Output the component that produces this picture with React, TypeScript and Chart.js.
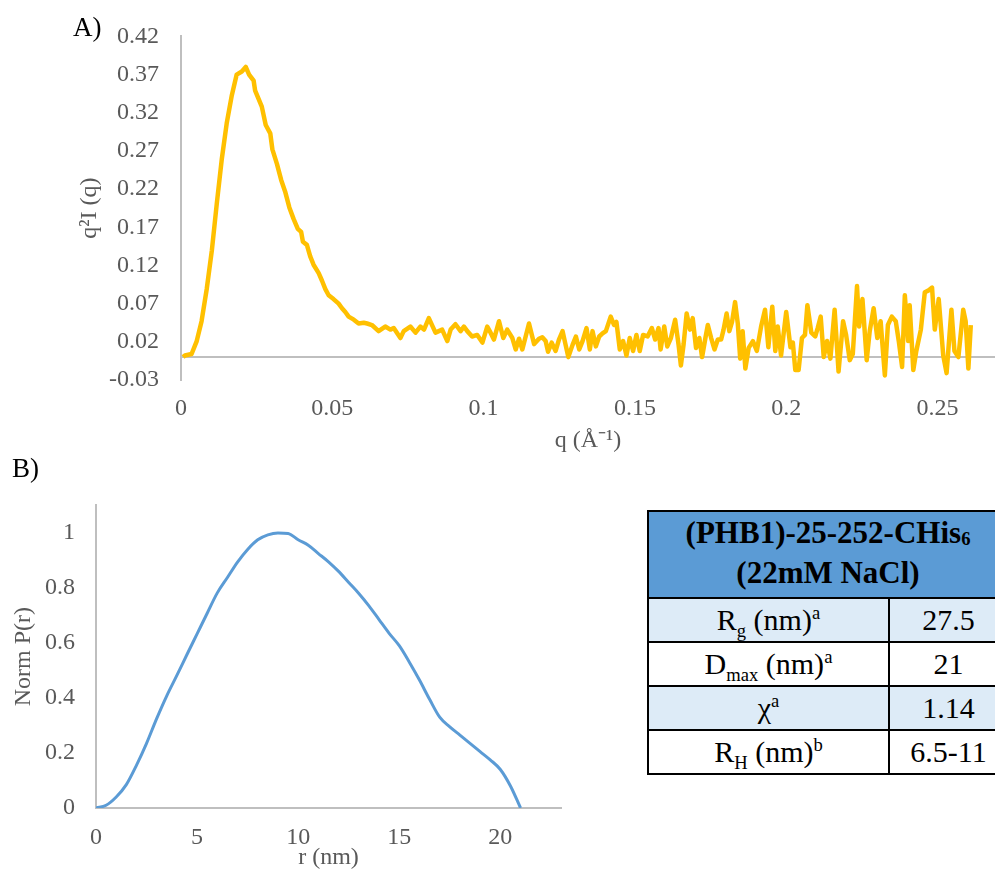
import React, { useEffect, useRef } from "react";
import { Chart, registerables } from "chart.js";

Chart.register(...registerables);

// ---------- Panel A: Kratky plot ----------
const qA = [
  0.0007, 0.0013, 0.0035, 0.0052, 0.0068, 0.0085, 0.0102, 0.0118, 0.0135, 0.0151,
  0.0168, 0.0184, 0.0201, 0.0214, 0.0225, 0.0240, 0.0245, 0.0267, 0.0280, 0.0295,
  0.0302, 0.0317, 0.0331, 0.0344, 0.0358, 0.0372, 0.0386, 0.0397, 0.0403, 0.0416,
  0.0427, 0.0438, 0.0455, 0.0466, 0.0477, 0.0488, 0.0504, 0.0521, 0.0532, 0.0543,
  0.0554, 0.0571, 0.0587, 0.0604, 0.0615, 0.0631, 0.0653, 0.0675, 0.0692, 0.0703,
  0.0725, 0.0736, 0.0758, 0.0775, 0.0791, 0.0803, 0.0819, 0.0841, 0.0863, 0.0880,
  0.0891, 0.0907, 0.0924, 0.0935, 0.0946, 0.0962, 0.0979, 0.0996, 0.1012, 0.1023,
  0.1034, 0.1051, 0.1065, 0.1078, 0.1095, 0.1106, 0.1117, 0.1128, 0.1150, 0.1167,
  0.1183, 0.1194, 0.1205, 0.1213, 0.1225, 0.1238, 0.1249, 0.1261, 0.1271, 0.1280,
  0.1294, 0.1305, 0.1316, 0.1327, 0.1340, 0.1351, 0.1360, 0.1371, 0.1382, 0.1393,
  0.1404, 0.1420, 0.1431, 0.1439, 0.1450, 0.1461, 0.1472, 0.1483, 0.1494, 0.1505,
  0.1516, 0.1527, 0.1542, 0.1556, 0.1567, 0.1578, 0.1585, 0.1597, 0.1607, 0.1619,
  0.1633, 0.1644, 0.1652, 0.1661, 0.1671, 0.1682, 0.1691, 0.1702, 0.1713, 0.1722,
  0.1733, 0.1741, 0.1752, 0.1763, 0.1774, 0.1785, 0.1793, 0.1803, 0.1812, 0.1821,
  0.1831, 0.1840, 0.1848, 0.1856, 0.1865, 0.1876, 0.1890, 0.1903, 0.1917, 0.1930,
  0.1941, 0.1954, 0.1964, 0.1972, 0.1983, 0.2000, 0.2014, 0.2022, 0.2030, 0.2041,
  0.2052, 0.2062, 0.2070, 0.2083, 0.2096, 0.2104, 0.2114, 0.2124, 0.2135, 0.2146,
  0.2160, 0.2173, 0.2188, 0.2198, 0.2210, 0.2220, 0.2234, 0.2241, 0.2252, 0.2266,
  0.2276, 0.2289, 0.2301, 0.2312, 0.2326, 0.2336, 0.2349, 0.2362, 0.2372, 0.2383,
  0.2392, 0.2403, 0.2408, 0.2420, 0.2430, 0.2445, 0.2458, 0.2469, 0.2482, 0.2491,
  0.2504, 0.2519, 0.2530, 0.2546, 0.2556, 0.2569, 0.2585, 0.2593, 0.2602, 0.2610,
];

const q2I = [
  0.000, 0.002, 0.004, 0.021, 0.047, 0.089, 0.140, 0.200, 0.260, 0.306,
  0.343, 0.370, 0.374, 0.380, 0.370, 0.362, 0.349, 0.328, 0.304, 0.293,
  0.272, 0.253, 0.232, 0.217, 0.196, 0.181, 0.168, 0.164, 0.151, 0.147,
  0.132, 0.121, 0.110, 0.100, 0.089, 0.081, 0.076, 0.070, 0.064, 0.059,
  0.053, 0.049, 0.044, 0.045, 0.044, 0.042, 0.034, 0.040, 0.036, 0.038,
  0.025, 0.034, 0.040, 0.032, 0.040, 0.036, 0.051, 0.032, 0.036, 0.021,
  0.036, 0.043, 0.034, 0.040, 0.034, 0.027, 0.029, 0.019, 0.040, 0.032,
  0.023, 0.047, 0.025, 0.036, 0.025, 0.010, 0.024, 0.010, 0.044, 0.017,
  0.024, 0.026, 0.021, 0.007, 0.019, 0.008, 0.023, 0.034, 0.016, 0.000,
  0.016, 0.027, 0.010, 0.021, 0.038, 0.010, 0.034, 0.014, 0.027, 0.031,
  0.034, 0.053, 0.042, 0.046, 0.010, 0.021, 0.002, 0.025, 0.008, 0.029,
  0.008, 0.029, 0.027, 0.038, 0.023, 0.038, 0.010, 0.040, 0.014, 0.025,
  0.049, 0.017, -0.011, 0.017, 0.057, 0.036, 0.051, 0.012, 0.025, 0.000,
  0.025, 0.042, 0.025, 0.010, 0.023, 0.023, 0.036, 0.057, 0.034, 0.046,
  0.072, 0.044, -0.002, 0.034, -0.015, 0.012, 0.021, 0.008, 0.040, 0.062,
  0.013, 0.066, 0.008, 0.040, 0.002, 0.059, 0.013, 0.019, -0.017, -0.017,
  0.025, 0.029, 0.068, 0.032, 0.027, 0.038, 0.053, 0.000, 0.021, -0.002,
  0.062, -0.019, 0.047, 0.029, -0.004, 0.004, 0.093, 0.040, 0.076, -0.004,
  0.034, 0.064, 0.025, 0.047, -0.024, 0.042, 0.053, 0.047, 0.021, -0.013,
  0.081, 0.021, 0.068, -0.017, 0.008, 0.036, 0.085, 0.087, 0.091, 0.036,
  0.076, 0.002, -0.021, 0.062, 0.008, 0.000, 0.062, 0.047, -0.015, 0.042,
];

const xTicksA = [0, 0.05, 0.1, 0.15, 0.2, 0.25];
const yTicksA = [-0.03, 0.02, 0.07, 0.12, 0.17, 0.22, 0.27, 0.32, 0.37, 0.42];

// ---------- Panel B: pair distance distribution ----------
const rB = [
  0, 0.5, 1, 1.5, 2, 2.5, 3, 3.5, 4, 4.5, 5, 5.5, 6, 6.5, 7, 7.5, 8, 8.5, 9, 9.5,
  10, 10.5, 11, 11.5, 12, 12.5, 13, 13.5, 14, 14.5, 15, 15.5, 16, 16.5, 17, 17.5,
  18, 18.5, 19, 19.5, 20, 20.5, 21,
];
const normP = [
  0, 0.01, 0.04, 0.085, 0.155, 0.235, 0.325, 0.408, 0.482, 0.558, 0.633, 0.708,
  0.782, 0.838, 0.894, 0.94, 0.975, 0.993, 1.0, 0.998, 0.975, 0.955, 0.925, 0.895,
  0.86, 0.82, 0.78, 0.735, 0.685, 0.635, 0.59, 0.53, 0.465, 0.395, 0.33, 0.295,
  0.265, 0.235, 0.205, 0.175, 0.14, 0.08, 0.0,
];
const xTicksB = [0, 5, 10, 15, 20];
const yTicksB = [0, 0.2, 0.4, 0.6, 0.8, 1];

// ---------- Table ----------
const tableTitle1 = "(PHB1)-25-252-CHis";
const tableTitleSub = "6";
const tableTitle2 = "(22mM NaCl)";
const rowBase = ["R", "D", "χ", "R"];
const rowSub = ["g", "max", "", "H"];
const rowRest = [" (nm)", " (nm)", "", " (nm)"];
const rowSup = ["a", "a", "a", "b"];
const rowValues = ["27.5", "21", "1.14", "6.5-11"];

const SERIF = "'Liberation Serif', 'Times New Roman', serif";
const GREY = "#595959";
const AXIS = "#BFBFBF";

const zeroLinePlugin = {
  id: "zeroLine",
  beforeDatasetsDraw(chart: any) {
    const { ctx, chartArea, scales } = chart;
    const y = scales.y.getPixelForValue(0);
    ctx.save();
    ctx.strokeStyle = AXIS;
    ctx.lineWidth = 2;
    ctx.beginPath();
    ctx.moveTo(chartArea.left, y);
    ctx.lineTo(chartArea.right, y);
    ctx.stroke();
    ctx.restore();
  },
};

const fmt = (v: number) => String(Number(v.toFixed(2)));

export default function App() {
  const refA = useRef<HTMLCanvasElement | null>(null);
  const refB = useRef<HTMLCanvasElement | null>(null);

  useEffect(() => {
    const tickFont = { family: SERIF, size: 24 };
    const chartA = new Chart(refA.current as HTMLCanvasElement, {
      type: "line",
      data: {
        datasets: [
          {
            data: qA.map((q, i) => ({ x: q, y: q2I[i] })),
            borderColor: "#FFC000",
            borderWidth: 4.5,
            pointRadius: 0,
            tension: 0,
            borderJoinStyle: "round",
            fill: false,
          },
        ],
      },
      options: {
        animation: false,
        responsive: false,
        layout: { padding: { top: 27, left: 0, right: 0, bottom: 0 } },
        plugins: { legend: { display: false }, tooltip: { enabled: false } },
        scales: {
          x: {
            type: "linear",
            min: 0,
            max: 0.269,
            grid: { display: false, drawTicks: false },
            border: { display: false },
            afterBuildTicks: (s: any) => {
              s.ticks = xTicksA.map((v) => ({ value: v }));
            },
            afterFit: (s: any) => {
              s.height = 80;
            },
            ticks: {
              autoSkip: false,
              maxRotation: 0,
              padding: 14,
              color: GREY,
              font: tickFont,
              callback: (v: any) => fmt(Number(v)),
            },
            title: {
              display: true,
              text: "q (Å⁻¹)",
              color: GREY,
              font: tickFont,
              padding: { top: 0, bottom: 5 },
            },
          },
          y: {
            type: "linear",
            min: -0.03,
            max: 0.42,
            grid: { display: false, drawTicks: false },
            border: { display: true, color: AXIS, width: 2 },
            afterBuildTicks: (s: any) => {
              s.ticks = yTicksA.map((v) => ({ value: v }));
            },
            afterFit: (s: any) => {
              s.width = 181;
            },
            ticks: {
              autoSkip: false,
              padding: 22,
              color: GREY,
              font: tickFont,
              callback: (v: any) => Number(v).toFixed(2),
            },
            title: {
              display: true,
              text: "q²I (q)",
              color: GREY,
              font: tickFont,
              padding: { top: 75, bottom: 0 },
            },
          },
        },
      } as any,
      plugins: [zeroLinePlugin],
    });

    const chartB = new Chart(refB.current as HTMLCanvasElement, {
      type: "line",
      data: {
        datasets: [
          {
            data: rB.map((r, i) => ({ x: r, y: normP[i] })),
            borderColor: "#5B9BD5",
            borderWidth: 3,
            pointRadius: 0,
            cubicInterpolationMode: "monotone",
            fill: false,
          },
        ],
      },
      options: {
        animation: false,
        responsive: false,
        layout: { padding: { top: 20, left: 0, right: 19, bottom: 0 } },
        plugins: { legend: { display: false }, tooltip: { enabled: false } },
        scales: {
          x: {
            type: "linear",
            min: 0,
            max: 23,
            grid: { display: false, drawTicks: false },
            border: { display: true, color: AXIS, width: 2 },
            afterBuildTicks: (s: any) => {
              s.ticks = xTicksB.map((v) => ({ value: v }));
            },
            afterFit: (s: any) => {
              s.height = 64;
            },
            ticks: {
              autoSkip: false,
              maxRotation: 0,
              padding: 15,
              color: GREY,
              font: tickFont,
              callback: (v: any) => fmt(Number(v)),
            },
            title: {
              display: true,
              text: "r (nm)",
              color: GREY,
              font: tickFont,
              padding: { top: 0, bottom: 0 },
            },
          },
          y: {
            type: "linear",
            min: 0,
            max: 1.1,
            grid: { display: false, drawTicks: false },
            border: { display: true, color: AXIS, width: 2 },
            afterBuildTicks: (s: any) => {
              s.ticks = yTicksB.map((v) => ({ value: v }));
            },
            afterFit: (s: any) => {
              s.width = 96;
            },
            ticks: {
              autoSkip: false,
              padding: 21,
              color: GREY,
              font: tickFont,
              callback: (v: any) => fmt(Number(v)),
            },
            title: {
              display: true,
              text: "Norm P(r)",
              color: GREY,
              font: tickFont,
              padding: { top: 9, bottom: 0 },
            },
          },
        },
      } as any,
    });

    return () => {
      chartA.destroy();
      chartB.destroy();
    };
  }, []);

  const cellBorder = "2px solid #000";
  const rowH = 44;

  return (
    <div
      style={{
        position: "absolute",
        left: 0,
        top: 0,
        width: 995,
        height: 872,
        overflow: "hidden",
        background: "#fff",
        fontFamily: SERIF,
      }}
    >
      <canvas
        ref={refA}
        width={995}
        height={460}
        style={{ position: "absolute", left: 0, top: 0 }}
      />
      <canvas
        ref={refB}
        width={580}
        height={402}
        style={{ position: "absolute", left: 0, top: 470 }}
      />
      <div
        style={{
          position: "absolute",
          left: 73,
          top: 14,
          fontSize: 27,
          lineHeight: 1,
          color: "#000",
        }}
      >
        A)
      </div>
      <div
        style={{
          position: "absolute",
          left: 12,
          top: 455,
          fontSize: 27,
          lineHeight: 1,
          color: "#000",
        }}
      >
        B)
      </div>
      <table
        style={{
          position: "absolute",
          left: 647,
          top: 510,
          width: 360,
          borderCollapse: "collapse",
          tableLayout: "fixed",
          fontFamily: SERIF,
          color: "#000",
        }}
      >
        <colgroup>
          <col style={{ width: 241 }} />
          <col style={{ width: 119 }} />
        </colgroup>
        <tbody>
          <tr style={{ height: 87 }}>
            <td
              colSpan={2}
              style={{
                border: cellBorder,
                background: "#5B9BD5",
                textAlign: "center",
                fontWeight: "bold",
                fontSize: 31,
                lineHeight: "40px",
                padding: "1px 0 4px 0",
              }}
            >
              {tableTitle1}
              <sub style={{ fontSize: "0.6em", lineHeight: 0, verticalAlign: "-0.1em" }}>
                {tableTitleSub}
              </sub>
              <br />
              {tableTitle2}
            </td>
          </tr>
          {rowValues.map((val, i) => (
            <tr key={i} style={{ height: rowH, background: i % 2 === 0 ? "#DDEBF7" : "#FFFFFF" }}>
              <td
                style={{
                  border: cellBorder,
                  textAlign: "center",
                  fontSize: 30,
                  lineHeight: "36px",
                  padding: 0,
                }}
              >
                {rowBase[i]}
                {rowSub[i] ? (
                  <sub style={{ fontSize: "0.62em", lineHeight: 0 }}>{rowSub[i]}</sub>
                ) : null}
                {rowRest[i]}
                <sup style={{ fontSize: "0.62em", lineHeight: 0 }}>{rowSup[i]}</sup>
              </td>
              <td
                style={{
                  border: cellBorder,
                  textAlign: "center",
                  fontSize: 30,
                  lineHeight: "36px",
                  padding: 0,
                }}
              >
                {val}
              </td>
            </tr>
          ))}
        </tbody>
      </table>
    </div>
  );
}
